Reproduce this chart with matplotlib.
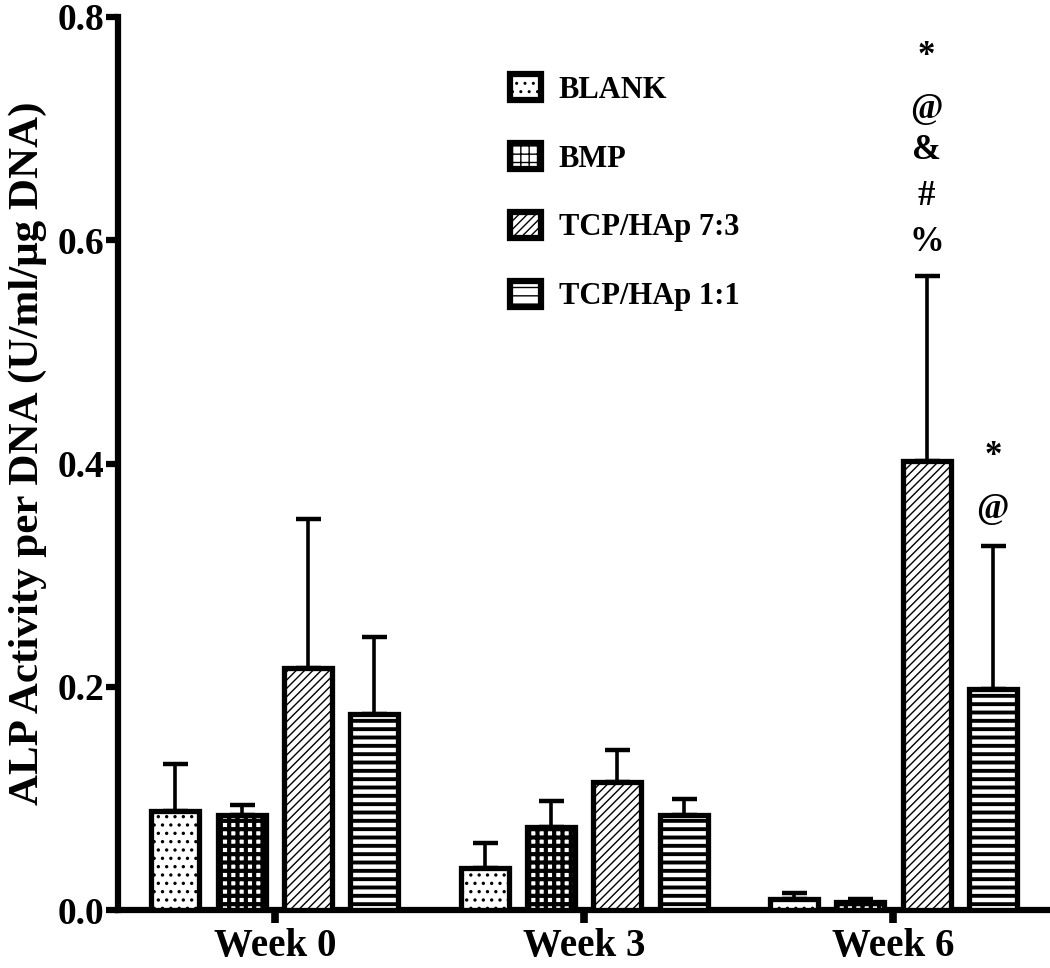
import matplotlib
matplotlib.use("Agg")
import matplotlib.pyplot as plt
import numpy as np

# ---- data ----
weeks = ["Week 0", "Week 3", "Week 6"]
groups = ["BLANK", "BMP", "TCP/HAp 7:3", "TCP/HAp 1:1"]
blank_mean = [0.089, 0.038, 0.010]
blank_err = [0.042, 0.022, 0.005]
bmp_mean = [0.085, 0.074, 0.007]
bmp_err = [0.009, 0.024, 0.003]
tcp73_mean = [0.217, 0.115, 0.402]
tcp73_err = [0.133, 0.028, 0.166]
tcp11_mean = [0.176, 0.085, 0.198]
tcp11_err = [0.069, 0.014, 0.128]
yticks = [0.0, 0.2, 0.4, 0.6, 0.8]
# significance marks (week index, group index, symbols from bottom to top)
sig_marks = [(2, 2, ["%", "#", "&", "@", "*"]), (2, 3, ["@", "*"])]

means = [blank_mean, bmp_mean, tcp73_mean, tcp11_mean]
errs = [blank_err, bmp_err, tcp73_err, tcp11_err]
hatches = ["..", "++", "////", "--"]
hatch_lw = [1.2, 3.0, 1.0, 2.8]

plt.rcParams['font.family'] = ['Liberation Serif', 'DejaVu Serif']
plt.rcParams['font.weight'] = 'bold'

fig = plt.figure(figsize=(10.5, 9.68), dpi=100)
ax = fig.add_axes([118/1050, 1-910/968, (1048-118)/1050, (910-17)/968])

x = np.arange(len(weeks))
pitch = 0.2145
width = 0.155
for i in range(4):
    pos = x + (i - 1.5) * pitch
    bars = ax.bar(pos, means[i], width, color='white', edgecolor='black',
                  linewidth=3.8, hatch=hatches[i], label=groups[i], zorder=3)
    for b in bars:
        if hasattr(b, "set_hatch_linewidth"):
            b.set_hatch_linewidth(hatch_lw[i])
    ax.errorbar(pos, means[i], yerr=[np.zeros(3), errs[i]], fmt='none',
                ecolor='black', elinewidth=2.6, capsize=9, capthick=3.2, zorder=2)

# significance annotations
offsets_px = {2: [33, 79, 125, 166, 219], 3: [37, 90]}
for wi, gi, syms in sig_marks:
    xp = x[wi] + (gi - 1.5) * pitch
    top = means[gi][wi] + errs[gi][wi]
    for k, s in enumerate(syms):
        ax.annotate(s, (xp, top), xytext=(0, offsets_px[gi][k] * 0.72),
                    textcoords='offset points', ha='center', va='center',
                    fontsize=25, fontweight='bold')

ax.set_xlim(-0.507, 2.5)
ax.set_ylim(0, 0.8)
ax.set_yticks(yticks)
ax.set_yticklabels([f"{v:.1f}" for v in yticks])
ax.set_xticks(x)
ax.set_xticklabels(weeks)
for s in ['top', 'right']:
    ax.spines[s].set_visible(False)
for s in ['left', 'bottom']:
    ax.spines[s].set_linewidth(4.5)
ax.tick_params(axis='y', length=9, width=4.5, labelsize=27, pad=1)
ax.tick_params(axis='x', length=9, width=5.5, labelsize=28, pad=4)

ax.set_ylabel("ALP Activity per DNA (U/ml/\u03bcg DNA)", fontsize=31, fontweight='bold')
ax.yaxis.set_label_coords(-0.0765, 0.511)

leg = ax.legend(loc='upper left', bbox_to_anchor=(510/1050, 1-74/968),
                bbox_transform=fig.transFigure, frameon=False, fontsize=22,
                handlelength=1.0, handleheight=0.95, handletextpad=0.6,
                labelspacing=1.25, borderpad=0, borderaxespad=0)
for h in leg.legend_handles:
    h.set_linewidth(4.5)

fig.savefig("out.png", dpi=100, facecolor='white')
